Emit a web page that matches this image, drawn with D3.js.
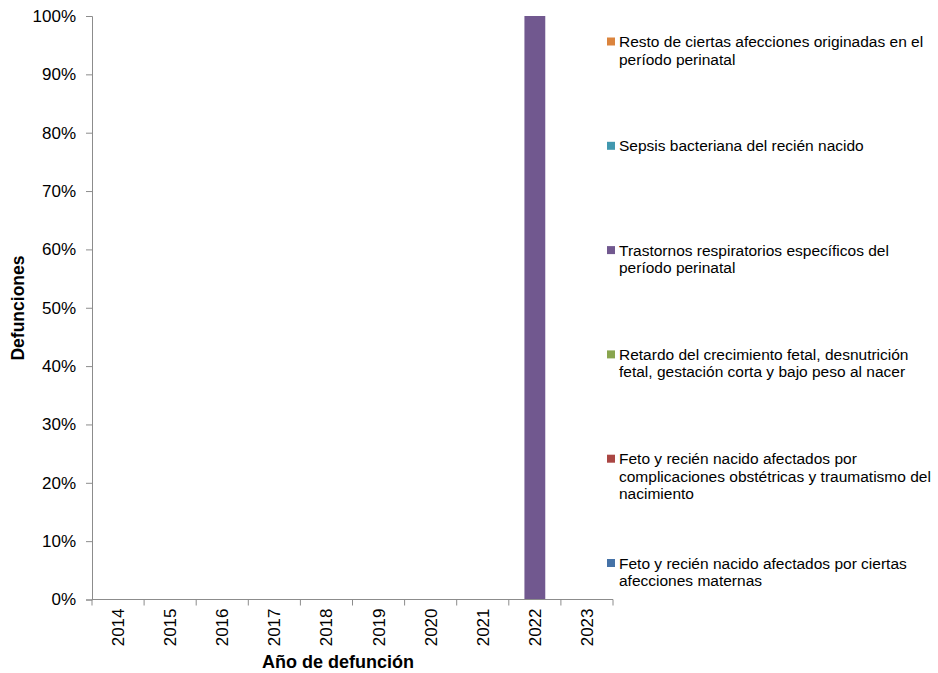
<!DOCTYPE html>
<html><head><meta charset="utf-8">
<script src="https://cdn.jsdelivr.net/npm/d3@7"></script>
<style>body{margin:0;background:#fff}svg{display:block}text{font-family:"Liberation Sans",Arial,sans-serif;fill:#000}</style>
</head><body><svg id="c" width="938" height="673"></svg>
<script>
const years = ["2014","2015","2016","2017","2018","2019","2020","2021","2022","2023"];
// Series, bottom to top of the stack
const seriesNames = [
  "Feto y recién nacido afectados por ciertas afecciones maternas",
  "Feto y recién nacido afectados por complicaciones obstétricas y traumatismo del nacimiento",
  "Retardo del crecimiento fetal, desnutrición fetal, gestación corta y bajo peso al nacer",
  "Trastornos respiratorios específicos del período perinatal",
  "Sepsis bacteriana del recién nacido",
  "Resto de ciertas afecciones originadas en el período perinatal"
];
const legendLines = [
  ["Feto y recién nacido afectados por ciertas","afecciones maternas"],
  ["Feto y recién nacido afectados por","complicaciones obstétricas y traumatismo del","nacimiento"],
  ["Retardo del crecimiento fetal, desnutrición","fetal, gestación corta y bajo peso al nacer"],
  ["Trastornos respiratorios específicos del","período perinatal"],
  ["Sepsis bacteriana del recién nacido"],
  ["Resto de ciertas afecciones originadas en el","período perinatal"]
];
const seriesColors = ["#4572A7","#AA4643","#89A54E","#71588F","#4198AF","#DB843D"];
const maternas      = [0,0,0,0,0,0,0,0,0,0];
const obstetricas   = [0,0,0,0,0,0,0,0,0,0];
const retardo       = [0,0,0,0,0,0,0,0,0,0];
const respiratorios = [0,0,0,0,0,0,0,0,1,0];
const sepsis        = [0,0,0,0,0,0,0,0,0,0];
const resto         = [0,0,0,0,0,0,0,0,0,0];
const yTicks = [0,0.1,0.2,0.3,0.4,0.5,0.6,0.7,0.8,0.9,1];

const seriesValues = [maternas, obstetricas, retardo, respiratorios, sepsis, resto];
const table = years.map((y,i)=>{
  const row = {year:y};
  const tot = d3.sum(seriesValues, s=>s[i]);
  seriesValues.forEach((s,k)=>{ row["s"+k] = tot ? s[i]/tot : 0; });
  return row;
});
const keys = seriesValues.map((_,k)=>"s"+k);
const stack = d3.stack().keys(keys)(table);

const svg = d3.select("#c");
const L=92, R=613, T=16, B=599.5;
const x = d3.scaleBand().domain(years).range([L,R]).paddingInner(0.6).paddingOuter(0.3);
const xb = d3.scaleBand().domain(years).range([L,R]);
const y = d3.scaleLinear().domain([0,1]).range([B,T]);
const axisColor = "#8c8c8c";

// bars
stack.forEach((layer,k)=>{
  svg.append("g").attr("fill",seriesColors[k]).selectAll("rect")
    .data(layer.filter(d=>d[1]-d[0]>0)).enter().append("rect")
    .attr("x",d=>x(d.data.year)).attr("width",x.bandwidth())
    .attr("y",d=>y(d[1])).attr("height",d=>y(d[0])-y(d[1]));
});

// y axis
const ya = svg.append("g").attr("transform",`translate(${L},0)`)
  .call(d3.axisLeft(y).tickValues(yTicks).tickFormat(d3.format(".0%")).tickSize(6).tickPadding(10));
ya.select(".domain").attr("stroke",axisColor);
ya.selectAll(".tick line").attr("stroke",axisColor);
ya.selectAll("text").attr("font-size",17).attr("font-family","Liberation Sans, Arial, sans-serif").attr("fill","#000");

// x axis
const xg = svg.append("g").attr("transform",`translate(0,${B})`);
xg.append("line").attr("x1",L).attr("x2",R).attr("stroke",axisColor);
xg.selectAll(".tk").data(years.concat(["end"])).enter().append("line")
  .attr("x1",(d,i)=>i<years.length?xb(d):R).attr("x2",(d,i)=>i<years.length?xb(d):R)
  .attr("y1",0).attr("y2",6).attr("stroke",axisColor);
xg.selectAll(".lbl").data(years).enter().append("text")
  .attr("transform",d=>`translate(${xb(d)+xb.bandwidth()/2+6},9) rotate(-90)`)
  .attr("text-anchor","end").attr("font-size",17).text(d=>d);

// axis titles
svg.append("text").attr("x",338).attr("y",668).attr("text-anchor","middle")
  .attr("font-size",18).attr("font-weight","bold").text("Año de defunción");
svg.append("text").attr("transform","translate(24,308) rotate(-90)").attr("text-anchor","middle")
  .attr("font-size",17.5).attr("font-weight","bold").text("Defunciones");

// legend (top item = last series)
const lg = svg.append("g");
const order = d3.range(seriesNames.length).reverse();
order.forEach((k,i)=>{
  const cy = 41.5 + i*104.3;
  const g = lg.append("g");
  g.append("rect").attr("x",607).attr("y",cy-4).attr("width",8).attr("height",8).attr("fill",seriesColors[k]);
  legendLines[k].forEach((ln,j)=>{
    g.append("text").attr("x",619).attr("y",cy+5.5+j*17.5).attr("font-size",15.5).text(ln);
  });
});
</script></body></html>
